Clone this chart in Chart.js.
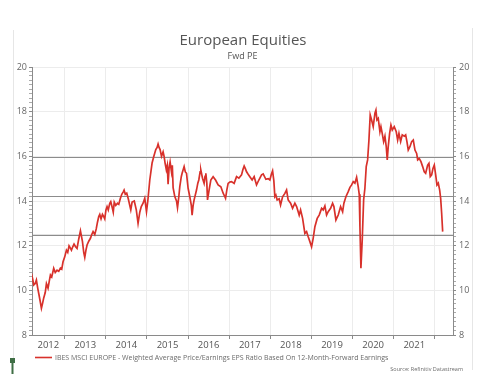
<!DOCTYPE html>
<html>
<head>
<meta charset="utf-8">
<script src="https://cdn.jsdelivr.net/npm/chart.js@4.4.1/dist/chart.umd.min.js"></script>
<style>
html,body{margin:0;padding:0;background:#fff;}
canvas{display:block;}
</style>
</head>
<body>
<canvas id="c" width="500" height="382"></canvas>
<script>
// ---- data (decimal years, PE values) ----
const dates = [
2012.190,2012.221,2012.246,2012.282,2012.311,2012.343,2012.375,2012.404,2012.433,2012.465,
2012.489,2012.526,2012.555,2012.594,2012.623,2012.652,2012.684,2012.732,2012.769,2012.813,
2012.854,2012.895,2012.927,2012.959,2013.000,2013.041,2013.073,2013.105,2013.134,2013.163,
2013.195,2013.226,2013.263,2013.299,2013.341,2013.382,2013.431,2013.462,2013.487,2013.516,
2013.543,2013.584,2013.625,2013.657,2013.689,2013.730,2013.766,2013.796,2013.827,2013.852,
2013.883,2013.917,2013.949,2013.973,2014.002,2014.029,2014.058,2014.095,2014.119,2014.156,
2014.180,2014.204,2014.241,2014.282,2014.314,2014.350,2014.387,2014.419,2014.443,2014.472,
2014.508,2014.545,2014.606,2014.638,2014.691,2014.740,2014.783,2014.825,2014.861,2014.905,
2014.946,2014.988,2015.020,2015.068,2015.124,2015.165,2015.214,2015.246,2015.270,2015.294,
2015.319,2015.353,2015.392,2015.416,2015.440,2015.470,2015.494,2015.513,2015.538,2015.562,
2015.596,2015.616,2015.635,2015.676,2015.718,2015.742,2015.774,2015.798,2015.835,2015.854,
2015.903,2015.932,2015.961,2016.000,2016.041,2016.078,2016.097,2016.122,2016.146,2016.204,
2016.236,2016.260,2016.292,2016.309,2016.350,2016.389,2016.411,2016.431,2016.455,2016.472,
2016.504,2016.552,2016.608,2016.667,2016.730,2016.796,2016.852,2016.893,2016.910,2016.942,
2016.973,2017.015,2017.056,2017.119,2017.178,2017.234,2017.299,2017.331,2017.363,2017.392,
2017.421,2017.460,2017.501,2017.557,2017.606,2017.664,2017.720,2017.786,2017.825,2017.891,
2017.946,2017.988,2018.024,2018.054,2018.085,2018.109,2018.134,2018.165,2018.214,2018.248,
2018.297,2018.353,2018.394,2018.433,2018.492,2018.540,2018.596,2018.638,2018.701,2018.735,
2018.784,2018.839,2018.881,2018.920,2018.961,2019.002,2019.041,2019.083,2019.139,2019.187,
2019.246,2019.285,2019.326,2019.367,2019.406,2019.465,2019.513,2019.545,2019.594,2019.650,
2019.708,2019.757,2019.788,2019.837,2019.893,2019.935,2019.976,2020.015,2020.056,2020.097,
2020.136,2020.161,2020.178,2020.202,2020.234,2020.268,2020.299,2020.331,2020.365,2020.397,
2020.428,2020.462,2020.501,2020.543,2020.567,2020.591,2020.623,2020.664,2020.689,2020.720,
2020.754,2020.786,2020.818,2020.842,2020.866,2020.900,2020.932,2020.964,2021.012,2021.061,
2021.095,2021.127,2021.168,2021.207,2021.256,2021.290,2021.321,2021.353,2021.394,2021.436,
2021.475,2021.516,2021.557,2021.582,2021.621,2021.662,2021.703,2021.742,2021.776,2021.825,
2021.856,2021.888,2021.922,2021.954,2021.986,2022.020,2022.051,2022.083,2022.117,2022.141,
2022.165,2022.190
];
const pe = [
10.76,10.50,10.24,10.30,10.46,10.10,9.79,9.50,9.20,9.45,
9.66,9.90,10.30,10.10,10.40,10.69,10.60,10.99,10.80,10.90,
10.85,11.00,10.95,11.28,11.50,11.80,11.70,11.99,11.90,11.80,
11.95,12.07,11.95,11.88,12.30,12.66,12.18,11.70,11.48,11.80,
12.03,12.20,12.33,12.50,12.63,12.50,12.75,13.05,13.30,13.40,
13.20,13.40,13.30,13.20,13.60,13.75,13.60,13.90,13.97,13.70,
13.50,13.95,13.80,13.90,13.85,14.10,14.30,14.40,14.49,14.30,
14.35,14.10,13.60,13.95,14.00,13.60,13.00,13.50,13.75,13.90,
14.12,13.52,14.00,14.94,15.70,15.99,16.30,16.40,16.55,16.40,
16.30,16.00,16.20,16.00,15.70,15.40,15.60,14.75,15.50,15.75,
15.30,15.60,14.60,14.20,14.00,13.70,14.20,14.64,15.10,15.24,
15.54,15.30,15.24,14.57,14.19,13.80,13.37,13.80,14.05,14.49,
14.80,14.94,15.30,15.39,15.02,14.79,15.10,15.24,14.80,14.05,
14.42,14.94,15.09,14.94,14.72,14.64,14.35,14.19,14.12,14.50,
14.79,14.85,14.87,14.79,15.09,15.02,15.17,15.40,15.57,15.45,
15.31,15.20,15.09,14.94,15.09,14.72,14.94,15.17,15.21,14.97,
15.00,14.94,15.20,15.35,14.90,14.20,14.27,14.05,14.10,13.82,
14.19,14.34,14.49,14.05,13.90,13.67,13.90,13.75,13.37,13.60,
13.22,12.55,12.63,12.40,12.18,11.95,12.33,12.85,13.22,13.37,
13.67,13.60,13.78,13.37,13.52,13.67,13.90,13.75,13.15,13.37,
13.75,13.52,13.90,14.19,14.42,14.61,14.72,14.87,14.80,15.06,
14.64,14.30,12.85,10.99,12.25,14.05,14.57,15.54,15.84,16.73,
17.85,17.63,17.33,17.93,18.07,17.63,17.70,17.10,17.33,17.03,
16.66,16.90,16.43,15.84,16.43,17.03,17.40,17.18,17.33,17.10,
16.73,17.03,16.66,16.96,16.90,16.96,16.66,16.28,16.43,16.66,
16.73,16.28,16.13,15.84,15.90,15.76,15.54,15.31,15.24,15.61,
15.69,15.09,15.17,15.46,15.61,15.17,14.72,14.80,14.49,14.12,
13.45,12.63
];
const refLines = [15.95, 14.2, 12.46];          // mean and +/- 1 std lines
const yearTicks = [2013,2014,2015,2016,2017,2018,2019,2020,2021,2022];
const yearLabels = ['2012','2013','2014','2015','2016','2017','2018','2019','2020','2021'];
const yTickLabels = [8,10,12,14,16,18,20];
const xMin = 2012.204, xMax = 2022.441, yMin = 8, yMax = 20;
const seriesName = 'IBES MSCI EUROPE - Weighted Average Price/Earnings EPS Ratio Based On 12-Month-Forward Earnings';

// ---- derived ----
const series = dates.map((d,i)=>({x:d, y:pe[i]}));
const labelPos = yearLabels.map(l=>{
  const y0 = Math.max(+l, xMin), y1 = Math.min(+l+1, xMax);
  return (y0+y1)/2;
});
const xTickVals = yearTicks.concat(labelPos).sort((a,b)=>a-b);
const isYear = v => yearTicks.some(t=>Math.abs(t-v)<1e-6);
const yTickVals = [];
for(let i=0;i<=60;i++){ yTickVals.push(+(yMin + i*0.2).toFixed(2)); }
const isMajorY = v => yTickLabels.some(t=>Math.abs(t-v)<1e-6);

const FONT = '"Open Sans", "Liberation Sans", sans-serif';

const refSets = refLines.map(v=>({
  label:'ref', data:[{x:xMin,y:v},{x:xMax,y:v}],
  borderColor:'#8c8c8c', borderWidth:1.1, pointRadius:0, fill:false, order:2
}));

const decor = {
  id:'decor',
  beforeDraw(chart){
    const c = chart.ctx;
    c.save();
    c.fillStyle='#fff'; c.fillRect(0,0,chart.width,chart.height);
    c.strokeStyle='#e6e6e6'; c.lineWidth=1;
    c.beginPath(); c.moveTo(13.5,30); c.lineTo(13.5,358); c.stroke();
    c.beginPath(); c.moveTo(472.5,28); c.lineTo(472.5,370); c.stroke();
    c.restore();
  },
  afterDraw(chart){
    const c = chart.ctx;
    c.save();
    c.fillStyle='#555';
    c.textAlign='center'; c.textBaseline='alphabetic';
    c.font='15px '+FONT;
    c.fillText('European Equities', 243, 45);
    c.font='9px '+FONT;
    c.fillText('Fwd PE', 242.5, 58.5);
    // legend
    c.strokeStyle='#d8312b'; c.lineWidth=1.6;
    c.beginPath(); c.moveTo(35,357.5); c.lineTo(52,357.5); c.stroke();
    c.fillStyle='#6b6b6b'; c.textAlign='left'; c.textBaseline='middle';
    c.font='7px '+FONT;
    c.fillText(seriesName, 55, 358);
    c.textAlign='right'; c.font='5.5px '+FONT;
    c.fillText('Source: Refinitiv Datastream', 463, 369.5);
    // green marker
    c.fillStyle='#3f6e45'; c.fillRect(10,358,5,5);
    c.fillRect(11.5,363,2,11);
    c.restore();
  }
};

new Chart(document.getElementById('c'), {
  type:'line',
  data:{ datasets:[
    { label:seriesName, data:series, borderColor:'#d8312b', borderWidth:1.7,
      pointRadius:0, tension:0, fill:false, order:1 },
    ...refSets
  ]},
  options:{
    responsive:false, animation:false, devicePixelRatio:1,
    layout:{ padding:{top:67,left:0,right:0,bottom:0} },
    plugins:{ legend:{display:false}, tooltip:{enabled:false}, title:{display:false} },
    scales:{
      x:{
        type:'linear', min:xMin, max:xMax,
        afterBuildTicks(scale){ scale.ticks = xTickVals.map(v=>({value:v})); },
        afterFit(scale){ scale.height = 47; },
        border:{display:true, color:'#8a8a8a', width:1},
        grid:{
          color:ctx=> (ctx.tick && isYear(ctx.tick.value)) ? '#ececec' : 'rgba(0,0,0,0)',
          tickColor:ctx=> (ctx.tick && isYear(ctx.tick.value)) ? '#8a8a8a' : 'rgba(0,0,0,0)',
          tickLength:4, lineWidth:1
        },
        ticks:{
          autoSkip:false, maxRotation:0, minRotation:0, padding:1,
          color:'#555', font:{family:FONT, size:9.5},
          callback(v){ const i = labelPos.findIndex(p=>Math.abs(p-v)<1e-6); return i>=0 ? yearLabels[i] : ''; }
        }
      },
      y:{
        type:'linear', position:'left', min:yMin, max:yMax,
        afterBuildTicks(scale){ scale.ticks = yTickVals.map(v=>({value:v})); },
        afterFit(scale){ scale.width = 32; },
        border:{display:true, color:'#8a8a8a', width:1},
        grid:{
          color:ctx=> (ctx.tick && isMajorY(ctx.tick.value) && ctx.tick.value>yMin) ? '#ececec' : 'rgba(0,0,0,0)',
          tickColor:ctx=> (ctx.tick && isMajorY(ctx.tick.value)) ? '#8a8a8a' : '#aaaaaa',
          tickLength:3, lineWidth:1
        },
        ticks:{
          autoSkip:false, padding:2, color:'#666', font:{family:FONT, size:9},
          callback(v){ return isMajorY(v) ? String(Math.round(v)) : ''; }
        }
      },
      y2:{
        type:'linear', position:'right', min:yMin, max:yMax,
        afterBuildTicks(scale){ scale.ticks = yTickVals.map(v=>({value:v})); },
        afterFit(scale){ scale.width = 47; },
        border:{display:true, color:'#8a8a8a', width:1},
        grid:{
          drawOnChartArea:false,
          tickColor:ctx=> (ctx.tick && isMajorY(ctx.tick.value)) ? '#8a8a8a' : '#aaaaaa',
          tickLength:3, lineWidth:1
        },
        ticks:{
          autoSkip:false, padding:3, color:'#666', font:{family:FONT, size:9},
          callback(v){ return isMajorY(v) ? String(Math.round(v)) : ''; }
        }
      }
    }
  },
  plugins:[decor]
});
</script>
</body>
</html>
